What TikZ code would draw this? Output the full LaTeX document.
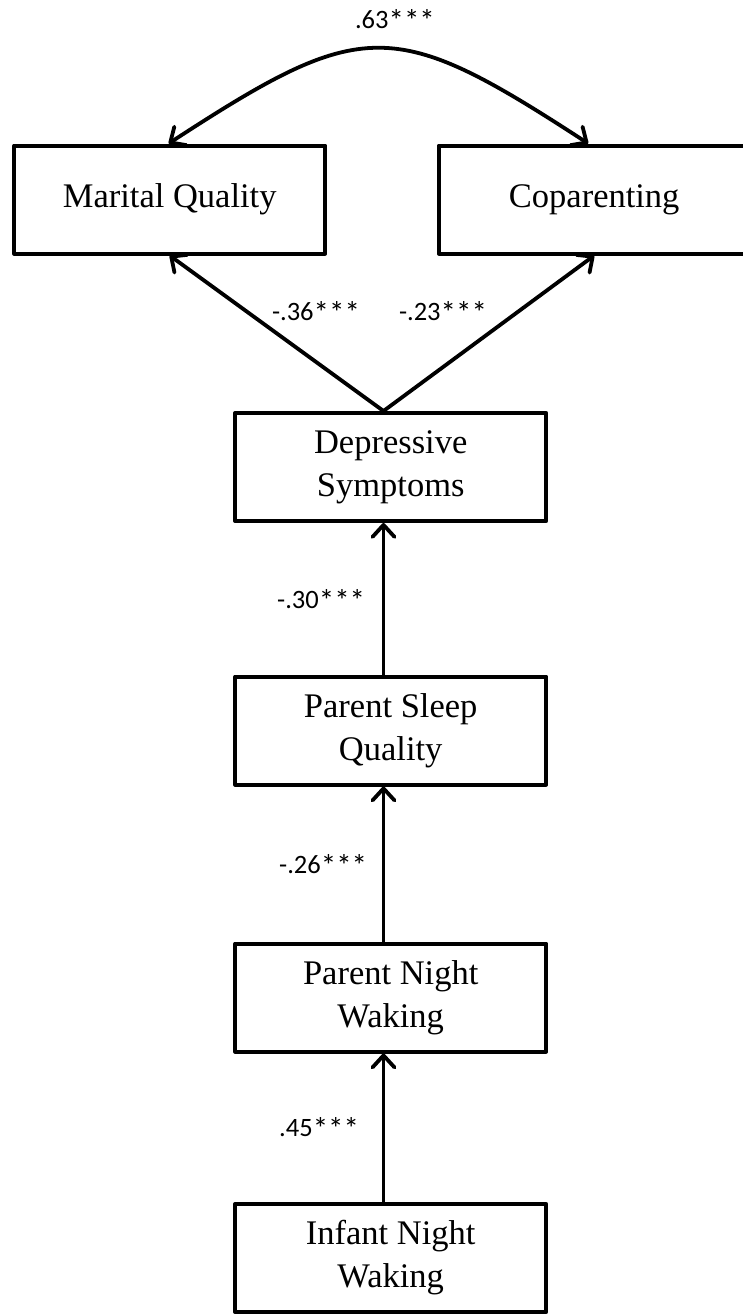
\documentclass[tikz,border=0pt]{standalone}
\usepackage{fontspec}
\setmainfont{Liberation Serif}
\newfontfamily\lblfont{Carlito}
\newcommand\sigstars{\raisebox{-3pt}{\fontsize{31}{34}\selectfont ***}}
\usetikzlibrary{arrows.meta}
\begin{document}
\begin{tikzpicture}[x=1pt,y=-1pt,
  box/.style={draw, line width=4pt, minimum width=311pt, minimum height=108pt, inner sep=0pt, align=center, font=\fontsize{34.5}{43}\selectfont, line join=round},
  arr/.style={line width=3.8pt, -{Straight Barb[length=12pt,width=22pt,line cap=round,line join=round]}},
  lbl/.style={font=\lblfont\fontsize{26.5}{30}\selectfont, inner sep=0pt}]
\useasboundingbox (0,0) rectangle (743,1315);
\fill[white] (0,0) rectangle (743,1315);
\clip (0,0) rectangle (743,1315);
\node[box] (mq) at (169.7,199.5) {Marital Quality};
\node[box] (cp) at (594.2,199.5) {Coparenting};
\node[box] (ds) at (390.7,467) {Depressive\\Symptoms};
\node[box] (psq) at (390.7,730.5) {Parent Sleep\\Quality};
\node[box] (pnw) at (390.7,997.5) {Parent Night\\Waking};
\node[box] (inw) at (390.7,1258) {Infant Night\\Waking};
\coordinate (spine) at (383.5,0);
\draw[arr] (ds.north -| spine) -- (mq.south);
\draw[arr] (ds.north -| spine) -- (cp.south);
\draw[arr] (psq.north -| spine) -- (ds.south -| spine);
\draw[arr] (pnw.north -| spine) -- (psq.south -| spine);
\draw[arr] (inw.north -| spine) -- (pnw.south -| spine);
\draw[line width=3.8pt, {Straight Barb[length=12pt,width=22pt,line cap=round,line join=round]}-{Straight Barb[length=12pt,width=22pt,line cap=round,line join=round]}]
  ([xshift=-1pt]mq.north) .. controls +(195,-127) and +(-195,-127) .. ([xshift=-6pt]cp.north);
\node[lbl] (l63) at (395,20) {.63\sigstars};
\node[lbl] (l36) at (316,312) {-.36\sigstars};
\node[lbl] (l23) at (443,312) {-.23\sigstars};
\node[lbl, anchor=west] (l30) at (277,600) {-.30\sigstars};
\node[lbl, anchor=west] (l26) at (279,865) {-.26\sigstars};
\node[lbl, anchor=west] (l45) at (279,1128) {.45\sigstars};
\end{tikzpicture}
\end{document}
